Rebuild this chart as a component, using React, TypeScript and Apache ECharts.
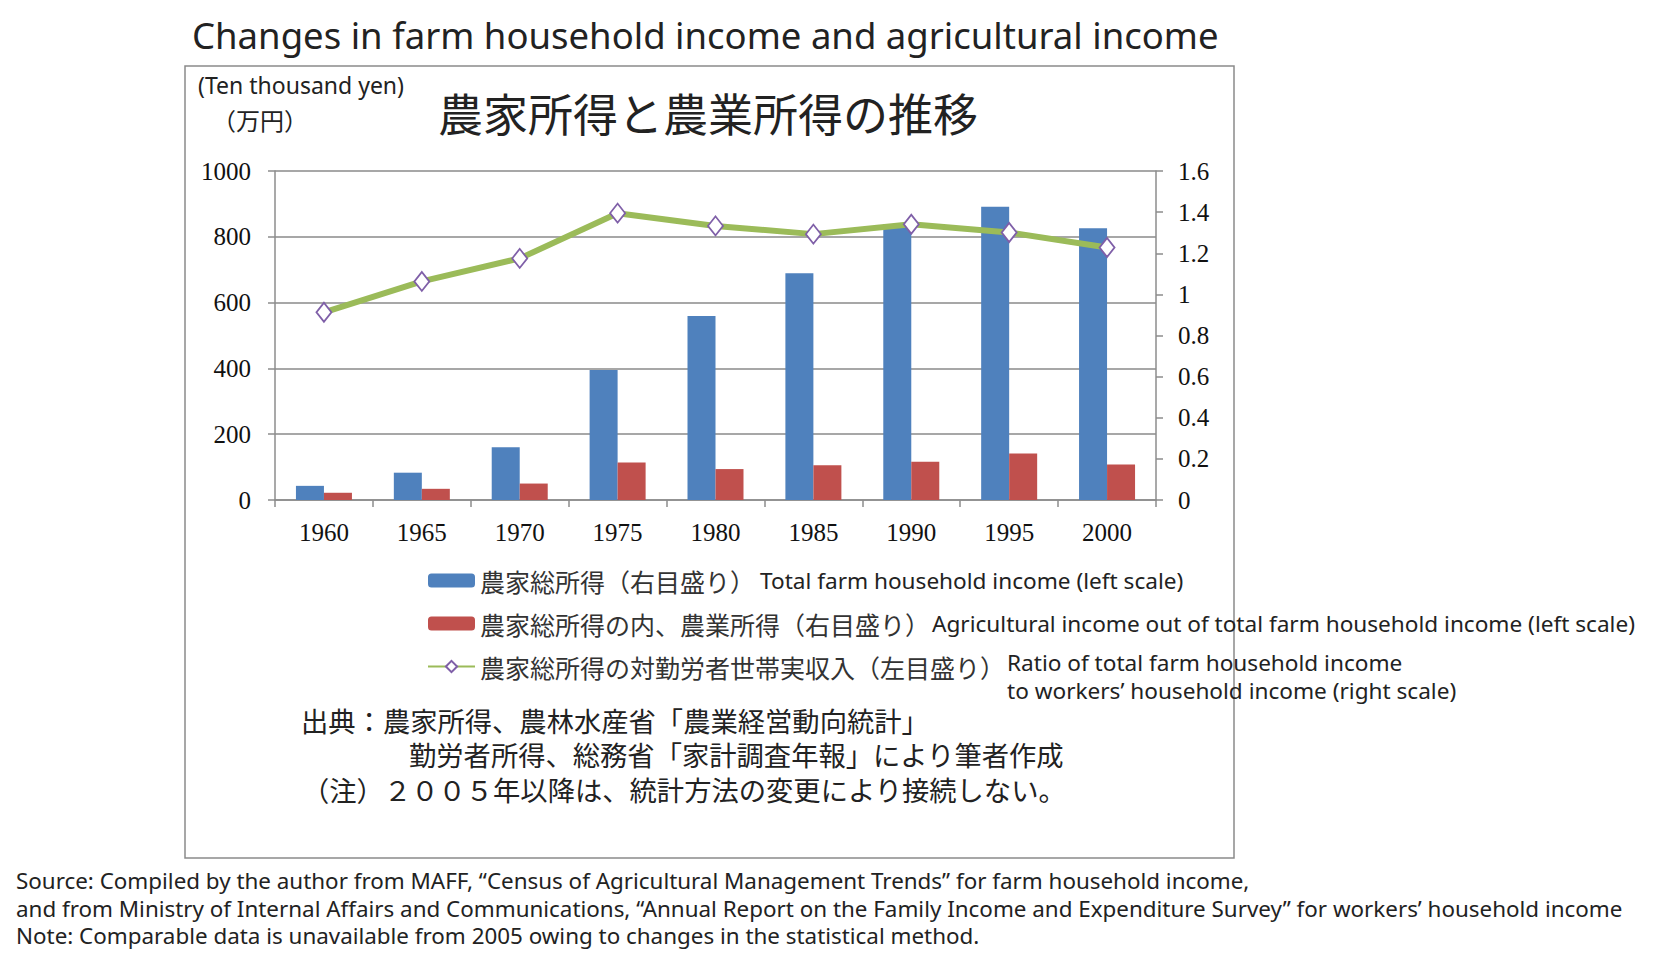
import React, { useEffect, useRef } from "react";
import * as echarts from "echarts";

const years = ["1960", "1965", "1970", "1975", "1980", "1985", "1990", "1995", "2000"];
const totalIncome = [43, 83, 160, 395, 559, 689, 838, 891, 826];
const agriIncome = [22, 34, 50, 114, 94, 106, 116, 141, 108];
const ratio = [0.913, 1.063, 1.175, 1.395, 1.333, 1.293, 1.341, 1.301, 1.228];

const seriesNames = [
  "農家総所得（右目盛り）",
  "農家総所得の内、農業所得（右目盛り）",
  "農家総所得の対勤労者世帯実収入（左目盛り）",
];
const englishLegend = [
  "Total farm household income (left scale)",
  "Agricultural income out of total farm household income (left scale)",
  "Ratio of total farm household income",
  "to workers’ household income (right scale)",
];
const mainTitle = "Changes in farm household income and agricultural income";
const jpTitle = "農家所得と農業所得の推移";
const unitEn = "(Ten thousand yen)";
const unitJp = "（万円）";
const sourceJp = [
  "出典：農家所得、農林水産省「農業経営動向統計」",
  "勤労者所得、総務省「家計調査年報」により筆者作成",
  "（注）２００５年以降は、統計方法の変更により接続しない。",
];
const notesEn = [
  "Source: Compiled by the author from MAFF, “Census of Agricultural Management Trends” for farm household income,",
  "and from Ministry of Internal Affairs and Communications, “Annual Report on the Family Income and Expenditure Survey” for workers’ household income",
  "Note: Comparable data is unavailable from 2005 owing to changes in the statistical method.",
];

const SANS = "'Noto Sans', 'Noto Sans CJK JP', sans-serif";
const CJK = "'Noto Sans CJK JP', 'Noto Sans', sans-serif";
const SERIF = "'Liberation Serif', 'DejaVu Serif', serif";

export default function App() {
  const ref = useRef<HTMLDivElement>(null);
  useEffect(() => {
    if (!ref.current) return;
    const chart = echarts.init(ref.current, null, { renderer: "svg" });
    const axisGray = "#8c8c8c";
    const txt = (x: number, y: number, text: string, size: number, font: string, lh: number) => ({
      type: "text",
      x,
      y,
      style: {
        text,
        fontSize: size,
        lineHeight: lh,
        fontFamily: font,
        fill: "#222",
        textVerticalAlign: "middle",
        textAlign: "left",
        fontWeight: "normal",
      },
      z: 10,
    });
    chart.setOption({
      animation: false,
      backgroundColor: "#fff",
      title: {
        text: mainTitle,
        left: 187,
        top: 12,
        textStyle: { fontFamily: SANS, fontSize: 36.5, fontWeight: "normal", color: "#222" },
      },
      grid: { left: 275, top: 171, width: 881, height: 329, containLabel: false },
      legend: {
        orient: "vertical",
        left: 422,
        top: 562,
        itemWidth: 47,
        itemHeight: 14,
        itemGap: 16,
        data: seriesNames,
        textStyle: { fontFamily: CJK, fontSize: 25, color: "#333", lineHeight: 27 },
        selectedMode: false,
      },
      xAxis: {
        type: "category",
        data: years,
        boundaryGap: true,
        axisLine: { lineStyle: { color: axisGray, width: 1.5 } },
        axisTick: { show: true, length: 7, lineStyle: { color: axisGray, width: 1.5 } },
        axisLabel: { fontFamily: SERIF, fontSize: 25, color: "#111", margin: 20 },
      },
      yAxis: [
        {
          type: "value",
          min: 0,
          max: 1000,
          interval: 200,
          axisLine: { show: true, lineStyle: { color: axisGray, width: 1.5 } },
          axisTick: { show: true, length: 7, lineStyle: { color: axisGray, width: 1.5 } },
          axisLabel: {
            fontFamily: SERIF,
            fontSize: 25,
            color: "#111",
            margin: 24,
            formatter: (v: number) => String(v),
          },
          splitLine: { show: true, lineStyle: { color: "#8a8a8a", width: 1.5 } },
        },
        {
          type: "value",
          min: 0,
          max: 1.6,
          interval: 0.2,
          position: "right",
          axisLine: { show: true, lineStyle: { color: axisGray, width: 1.5 } },
          axisTick: { show: true, length: 7, lineStyle: { color: axisGray, width: 1.5 } },
          axisLabel: {
            fontFamily: SERIF,
            fontSize: 25,
            color: "#111",
            margin: 22,
            formatter: (v: number) => String(+v.toFixed(1)),
          },
          splitLine: { show: false },
        },
      ],
      series: [
        {
          name: seriesNames[0],
          type: "bar",
          data: totalIncome,
          barWidth: 28,
          barGap: "0%",
          itemStyle: { color: "#4F81BD" },
        },
        {
          name: seriesNames[1],
          type: "bar",
          data: agriIncome,
          barWidth: 28,
          barGap: "0%",
          itemStyle: { color: "#C0504D" },
        },
        {
          name: seriesNames[2],
          type: "line",
          yAxisIndex: 1,
          data: ratio,
          symbol: "diamond",
          symbolSize: [15, 19],
          lineStyle: { color: "#9BBB59", width: 6 },
          itemStyle: { color: "#ffffff", borderColor: "#7F5FA8", borderWidth: 1.8 },
          z: 5,
        },
      ],
      graphic: [
        {
          type: "rect",
          shape: { x: 185, y: 66, width: 1049, height: 792 },
          style: { fill: "none", stroke: "#8a8a8a", lineWidth: 1.5 },
          z: 0,
        },
        txt(198, 85, unitEn, 23, SANS, 26),
        txt(212, 119, unitJp, 24, CJK, 26),
        txt(438, 112, jpTitle, 45, CJK, 50),
        txt(760, 580, englishLegend[0], 22.6, SANS, 25),
        txt(932, 623, englishLegend[1], 22.6, SANS, 25),
        txt(1007, 662, englishLegend[2], 22.6, SANS, 25),
        txt(1007, 690, englishLegend[3], 22.6, SANS, 25),
        txt(301, 720, sourceJp[0], 27.3, CJK, 30),
        txt(409, 754, sourceJp[1], 27.3, CJK, 30),
        txt(302, 789, sourceJp[2], 27.3, CJK, 30),
        txt(16, 880, notesEn[0], 22.4, SANS, 24),
        txt(16, 908, notesEn[1], 22.4, SANS, 24),
        txt(16, 935, notesEn[2], 22.4, SANS, 24),
      ],
    });
    return () => chart.dispose();
  }, []);
  return (
    <div
      ref={ref}
      style={{ position: "fixed", left: 0, top: 0, width: 1654, height: 964, background: "#fff" }}
    />
  );
}
